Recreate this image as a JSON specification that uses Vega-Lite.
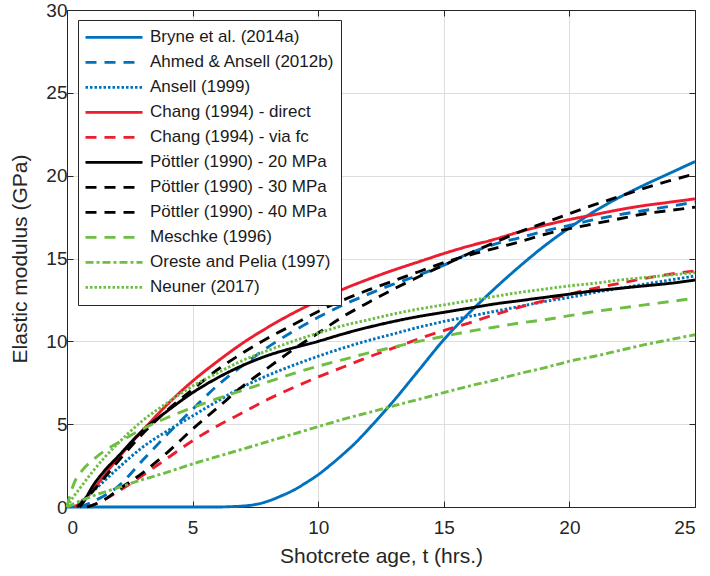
{
  "$schema": "https://vega.github.io/schema/vega-lite/v6.json",
  "width": 628,
  "height": 497,
  "autosize": {"type": "none"},
  "padding": {"left": 67, "top": 10, "right": 15, "bottom": 69},
  "background": "white",
  "config": {
    "font": "Liberation Sans",
    "view": {"stroke": "#262626", "strokeWidth": 1},
    "axis": {
      "domainColor": "#262626",
      "tickColor": "#262626",
      "labelColor": "#262626",
      "titleColor": "#262626",
      "labelFont": "Liberation Sans",
      "titleFont": "Liberation Sans",
      "labelFontSize": 19,
      "titleFontSize": 21,
      "titleFontWeight": "normal",
      "gridColor": "#dedede",
      "gridWidth": 1,
      "tickSize": -6
    }
  },
  "data": {
    "values": [
      {"s": "Bryne et al. (2014a)", "t": 0, "E": 0},
      {"s": "Bryne et al. (2014a)", "t": 3, "E": 0},
      {"s": "Bryne et al. (2014a)", "t": 6, "E": 0},
      {"s": "Bryne et al. (2014a)", "t": 6.5, "E": 0.02},
      {"s": "Bryne et al. (2014a)", "t": 7, "E": 0.06},
      {"s": "Bryne et al. (2014a)", "t": 7.5, "E": 0.15},
      {"s": "Bryne et al. (2014a)", "t": 8, "E": 0.35},
      {"s": "Bryne et al. (2014a)", "t": 8.5, "E": 0.65},
      {"s": "Bryne et al. (2014a)", "t": 9, "E": 1.0},
      {"s": "Bryne et al. (2014a)", "t": 9.5, "E": 1.45},
      {"s": "Bryne et al. (2014a)", "t": 10, "E": 1.95},
      {"s": "Bryne et al. (2014a)", "t": 10.5, "E": 2.55},
      {"s": "Bryne et al. (2014a)", "t": 11, "E": 3.2},
      {"s": "Bryne et al. (2014a)", "t": 11.5, "E": 3.9},
      {"s": "Bryne et al. (2014a)", "t": 12, "E": 4.7},
      {"s": "Bryne et al. (2014a)", "t": 13, "E": 6.4},
      {"s": "Bryne et al. (2014a)", "t": 14, "E": 8.25},
      {"s": "Bryne et al. (2014a)", "t": 15, "E": 10.1},
      {"s": "Bryne et al. (2014a)", "t": 16, "E": 11.7},
      {"s": "Bryne et al. (2014a)", "t": 17, "E": 13.15},
      {"s": "Bryne et al. (2014a)", "t": 18, "E": 14.5},
      {"s": "Bryne et al. (2014a)", "t": 19, "E": 15.75},
      {"s": "Bryne et al. (2014a)", "t": 20, "E": 16.85},
      {"s": "Bryne et al. (2014a)", "t": 21, "E": 17.85},
      {"s": "Bryne et al. (2014a)", "t": 22, "E": 18.7},
      {"s": "Bryne et al. (2014a)", "t": 23, "E": 19.45},
      {"s": "Bryne et al. (2014a)", "t": 24, "E": 20.15},
      {"s": "Bryne et al. (2014a)", "t": 25, "E": 20.85},

      {"s": "Ahmed & Ansell (2012b)", "t": 0.5, "E": 0},
      {"s": "Ahmed & Ansell (2012b)", "t": 1, "E": 0.3},
      {"s": "Ahmed & Ansell (2012b)", "t": 1.5, "E": 0.7},
      {"s": "Ahmed & Ansell (2012b)", "t": 2, "E": 1.2},
      {"s": "Ahmed & Ansell (2012b)", "t": 3, "E": 2.8},
      {"s": "Ahmed & Ansell (2012b)", "t": 4, "E": 4.4},
      {"s": "Ahmed & Ansell (2012b)", "t": 5, "E": 5.9},
      {"s": "Ahmed & Ansell (2012b)", "t": 6, "E": 7.35},
      {"s": "Ahmed & Ansell (2012b)", "t": 7, "E": 8.55},
      {"s": "Ahmed & Ansell (2012b)", "t": 8, "E": 9.65},
      {"s": "Ahmed & Ansell (2012b)", "t": 9, "E": 10.6},
      {"s": "Ahmed & Ansell (2012b)", "t": 10, "E": 11.45},
      {"s": "Ahmed & Ansell (2012b)", "t": 11, "E": 12.2},
      {"s": "Ahmed & Ansell (2012b)", "t": 12, "E": 12.85},
      {"s": "Ahmed & Ansell (2012b)", "t": 13, "E": 13.45},
      {"s": "Ahmed & Ansell (2012b)", "t": 14, "E": 14.0},
      {"s": "Ahmed & Ansell (2012b)", "t": 15, "E": 14.6},
      {"s": "Ahmed & Ansell (2012b)", "t": 16, "E": 15.3},
      {"s": "Ahmed & Ansell (2012b)", "t": 17, "E": 15.85},
      {"s": "Ahmed & Ansell (2012b)", "t": 18, "E": 16.25},
      {"s": "Ahmed & Ansell (2012b)", "t": 19, "E": 16.65},
      {"s": "Ahmed & Ansell (2012b)", "t": 20, "E": 17.0},
      {"s": "Ahmed & Ansell (2012b)", "t": 21, "E": 17.35},
      {"s": "Ahmed & Ansell (2012b)", "t": 22, "E": 17.65},
      {"s": "Ahmed & Ansell (2012b)", "t": 23, "E": 17.9},
      {"s": "Ahmed & Ansell (2012b)", "t": 24, "E": 18.15},
      {"s": "Ahmed & Ansell (2012b)", "t": 25, "E": 18.4},

      {"s": "Ansell (1999)", "t": 0.3, "E": 0},
      {"s": "Ansell (1999)", "t": 1, "E": 0.9},
      {"s": "Ansell (1999)", "t": 2, "E": 2.3},
      {"s": "Ansell (1999)", "t": 3, "E": 3.6},
      {"s": "Ansell (1999)", "t": 4, "E": 4.6},
      {"s": "Ansell (1999)", "t": 5, "E": 5.5},
      {"s": "Ansell (1999)", "t": 6, "E": 6.4},
      {"s": "Ansell (1999)", "t": 7, "E": 7.25},
      {"s": "Ansell (1999)", "t": 8, "E": 7.95},
      {"s": "Ansell (1999)", "t": 9, "E": 8.55},
      {"s": "Ansell (1999)", "t": 10, "E": 9.1},
      {"s": "Ansell (1999)", "t": 11, "E": 9.6},
      {"s": "Ansell (1999)", "t": 12, "E": 10.05},
      {"s": "Ansell (1999)", "t": 13, "E": 10.45},
      {"s": "Ansell (1999)", "t": 14, "E": 10.85},
      {"s": "Ansell (1999)", "t": 15, "E": 11.2},
      {"s": "Ansell (1999)", "t": 16, "E": 11.5},
      {"s": "Ansell (1999)", "t": 17, "E": 11.8},
      {"s": "Ansell (1999)", "t": 18, "E": 12.1},
      {"s": "Ansell (1999)", "t": 19, "E": 12.4},
      {"s": "Ansell (1999)", "t": 20, "E": 12.65},
      {"s": "Ansell (1999)", "t": 21, "E": 12.95},
      {"s": "Ansell (1999)", "t": 22, "E": 13.2},
      {"s": "Ansell (1999)", "t": 23, "E": 13.45},
      {"s": "Ansell (1999)", "t": 24, "E": 13.7},
      {"s": "Ansell (1999)", "t": 25, "E": 13.95},

      {"s": "Chang (1994) - direct", "t": 0.3, "E": 0},
      {"s": "Chang (1994) - direct", "t": 0.5, "E": 0.2},
      {"s": "Chang (1994) - direct", "t": 1, "E": 1.0},
      {"s": "Chang (1994) - direct", "t": 2, "E": 2.9},
      {"s": "Chang (1994) - direct", "t": 3, "E": 4.6},
      {"s": "Chang (1994) - direct", "t": 4, "E": 6.2},
      {"s": "Chang (1994) - direct", "t": 5, "E": 7.6},
      {"s": "Chang (1994) - direct", "t": 6, "E": 8.8},
      {"s": "Chang (1994) - direct", "t": 7, "E": 9.9},
      {"s": "Chang (1994) - direct", "t": 8, "E": 10.85},
      {"s": "Chang (1994) - direct", "t": 9, "E": 11.7},
      {"s": "Chang (1994) - direct", "t": 10, "E": 12.45},
      {"s": "Chang (1994) - direct", "t": 11, "E": 13.15},
      {"s": "Chang (1994) - direct", "t": 12, "E": 13.75},
      {"s": "Chang (1994) - direct", "t": 13, "E": 14.3},
      {"s": "Chang (1994) - direct", "t": 14, "E": 14.8},
      {"s": "Chang (1994) - direct", "t": 15, "E": 15.3},
      {"s": "Chang (1994) - direct", "t": 16, "E": 15.75},
      {"s": "Chang (1994) - direct", "t": 17, "E": 16.15},
      {"s": "Chang (1994) - direct", "t": 18, "E": 16.6},
      {"s": "Chang (1994) - direct", "t": 19, "E": 17.0},
      {"s": "Chang (1994) - direct", "t": 20, "E": 17.35},
      {"s": "Chang (1994) - direct", "t": 21, "E": 17.65},
      {"s": "Chang (1994) - direct", "t": 22, "E": 17.95},
      {"s": "Chang (1994) - direct", "t": 23, "E": 18.2},
      {"s": "Chang (1994) - direct", "t": 24, "E": 18.4},
      {"s": "Chang (1994) - direct", "t": 25, "E": 18.6},

      {"s": "Chang (1994) - via fc", "t": 0.8, "E": 0},
      {"s": "Chang (1994) - via fc", "t": 1, "E": 0.1},
      {"s": "Chang (1994) - via fc", "t": 2, "E": 0.9},
      {"s": "Chang (1994) - via fc", "t": 3, "E": 1.9},
      {"s": "Chang (1994) - via fc", "t": 4, "E": 2.95},
      {"s": "Chang (1994) - via fc", "t": 5, "E": 4.0},
      {"s": "Chang (1994) - via fc", "t": 6, "E": 4.9},
      {"s": "Chang (1994) - via fc", "t": 7, "E": 5.7},
      {"s": "Chang (1994) - via fc", "t": 8, "E": 6.5},
      {"s": "Chang (1994) - via fc", "t": 9, "E": 7.2},
      {"s": "Chang (1994) - via fc", "t": 10, "E": 7.85},
      {"s": "Chang (1994) - via fc", "t": 11, "E": 8.45},
      {"s": "Chang (1994) - via fc", "t": 12, "E": 9.05},
      {"s": "Chang (1994) - via fc", "t": 13, "E": 9.6},
      {"s": "Chang (1994) - via fc", "t": 14, "E": 10.15},
      {"s": "Chang (1994) - via fc", "t": 15, "E": 10.65},
      {"s": "Chang (1994) - via fc", "t": 16, "E": 11.1},
      {"s": "Chang (1994) - via fc", "t": 17, "E": 11.6},
      {"s": "Chang (1994) - via fc", "t": 18, "E": 12.05},
      {"s": "Chang (1994) - via fc", "t": 19, "E": 12.45},
      {"s": "Chang (1994) - via fc", "t": 20, "E": 12.85},
      {"s": "Chang (1994) - via fc", "t": 21, "E": 13.2},
      {"s": "Chang (1994) - via fc", "t": 22, "E": 13.5},
      {"s": "Chang (1994) - via fc", "t": 23, "E": 13.8},
      {"s": "Chang (1994) - via fc", "t": 24, "E": 14.05},
      {"s": "Chang (1994) - via fc", "t": 25, "E": 14.25},

      {"s": "Pöttler (1990) - 20 MPa", "t": 0.5, "E": 0},
      {"s": "Pöttler (1990) - 20 MPa", "t": 0.7, "E": 0.4},
      {"s": "Pöttler (1990) - 20 MPa", "t": 1, "E": 1.2},
      {"s": "Pöttler (1990) - 20 MPa", "t": 1.5, "E": 2.2},
      {"s": "Pöttler (1990) - 20 MPa", "t": 2, "E": 3.0},
      {"s": "Pöttler (1990) - 20 MPa", "t": 3, "E": 4.6},
      {"s": "Pöttler (1990) - 20 MPa", "t": 4, "E": 5.8},
      {"s": "Pöttler (1990) - 20 MPa", "t": 5, "E": 6.9},
      {"s": "Pöttler (1990) - 20 MPa", "t": 6, "E": 7.8},
      {"s": "Pöttler (1990) - 20 MPa", "t": 7, "E": 8.55},
      {"s": "Pöttler (1990) - 20 MPa", "t": 8, "E": 9.15},
      {"s": "Pöttler (1990) - 20 MPa", "t": 9, "E": 9.6},
      {"s": "Pöttler (1990) - 20 MPa", "t": 10, "E": 10.0},
      {"s": "Pöttler (1990) - 20 MPa", "t": 11, "E": 10.45},
      {"s": "Pöttler (1990) - 20 MPa", "t": 12, "E": 10.85},
      {"s": "Pöttler (1990) - 20 MPa", "t": 13, "E": 11.2},
      {"s": "Pöttler (1990) - 20 MPa", "t": 14, "E": 11.5},
      {"s": "Pöttler (1990) - 20 MPa", "t": 15, "E": 11.75},
      {"s": "Pöttler (1990) - 20 MPa", "t": 16, "E": 12.0},
      {"s": "Pöttler (1990) - 20 MPa", "t": 17, "E": 12.25},
      {"s": "Pöttler (1990) - 20 MPa", "t": 18, "E": 12.45},
      {"s": "Pöttler (1990) - 20 MPa", "t": 19, "E": 12.65},
      {"s": "Pöttler (1990) - 20 MPa", "t": 20, "E": 12.85},
      {"s": "Pöttler (1990) - 20 MPa", "t": 21, "E": 13.05},
      {"s": "Pöttler (1990) - 20 MPa", "t": 22, "E": 13.2},
      {"s": "Pöttler (1990) - 20 MPa", "t": 23, "E": 13.35},
      {"s": "Pöttler (1990) - 20 MPa", "t": 24, "E": 13.5},
      {"s": "Pöttler (1990) - 20 MPa", "t": 25, "E": 13.7},

      {"s": "Pöttler (1990) - 30 MPa", "t": 0.4, "E": 0},
      {"s": "Pöttler (1990) - 30 MPa", "t": 1, "E": 0.9},
      {"s": "Pöttler (1990) - 30 MPa", "t": 2, "E": 2.7},
      {"s": "Pöttler (1990) - 30 MPa", "t": 3, "E": 4.4},
      {"s": "Pöttler (1990) - 30 MPa", "t": 4, "E": 5.85},
      {"s": "Pöttler (1990) - 30 MPa", "t": 5, "E": 7.1},
      {"s": "Pöttler (1990) - 30 MPa", "t": 6, "E": 8.3},
      {"s": "Pöttler (1990) - 30 MPa", "t": 7, "E": 9.3},
      {"s": "Pöttler (1990) - 30 MPa", "t": 8, "E": 10.2},
      {"s": "Pöttler (1990) - 30 MPa", "t": 9, "E": 11.0},
      {"s": "Pöttler (1990) - 30 MPa", "t": 10, "E": 11.8},
      {"s": "Pöttler (1990) - 30 MPa", "t": 11, "E": 12.5},
      {"s": "Pöttler (1990) - 30 MPa", "t": 12, "E": 13.1},
      {"s": "Pöttler (1990) - 30 MPa", "t": 13, "E": 13.65},
      {"s": "Pöttler (1990) - 30 MPa", "t": 14, "E": 14.2},
      {"s": "Pöttler (1990) - 30 MPa", "t": 15, "E": 14.75},
      {"s": "Pöttler (1990) - 30 MPa", "t": 16, "E": 15.2},
      {"s": "Pöttler (1990) - 30 MPa", "t": 17, "E": 15.6},
      {"s": "Pöttler (1990) - 30 MPa", "t": 18, "E": 16.0},
      {"s": "Pöttler (1990) - 30 MPa", "t": 19, "E": 16.45},
      {"s": "Pöttler (1990) - 30 MPa", "t": 20, "E": 16.8},
      {"s": "Pöttler (1990) - 30 MPa", "t": 21, "E": 17.1},
      {"s": "Pöttler (1990) - 30 MPa", "t": 22, "E": 17.4},
      {"s": "Pöttler (1990) - 30 MPa", "t": 23, "E": 17.7},
      {"s": "Pöttler (1990) - 30 MPa", "t": 24, "E": 17.9},
      {"s": "Pöttler (1990) - 30 MPa", "t": 25, "E": 18.1},

      {"s": "Pöttler (1990) - 40 MPa", "t": 0.8, "E": 0},
      {"s": "Pöttler (1990) - 40 MPa", "t": 1, "E": 0.1},
      {"s": "Pöttler (1990) - 40 MPa", "t": 1.5, "E": 0.45},
      {"s": "Pöttler (1990) - 40 MPa", "t": 2, "E": 1.0},
      {"s": "Pöttler (1990) - 40 MPa", "t": 3, "E": 2.05},
      {"s": "Pöttler (1990) - 40 MPa", "t": 4, "E": 3.3},
      {"s": "Pöttler (1990) - 40 MPa", "t": 5, "E": 4.7},
      {"s": "Pöttler (1990) - 40 MPa", "t": 6, "E": 6.0},
      {"s": "Pöttler (1990) - 40 MPa", "t": 7, "E": 7.3},
      {"s": "Pöttler (1990) - 40 MPa", "t": 8, "E": 8.4},
      {"s": "Pöttler (1990) - 40 MPa", "t": 9, "E": 9.5},
      {"s": "Pöttler (1990) - 40 MPa", "t": 10, "E": 10.5},
      {"s": "Pöttler (1990) - 40 MPa", "t": 11, "E": 11.5},
      {"s": "Pöttler (1990) - 40 MPa", "t": 12, "E": 12.35},
      {"s": "Pöttler (1990) - 40 MPa", "t": 13, "E": 13.15},
      {"s": "Pöttler (1990) - 40 MPa", "t": 14, "E": 13.9},
      {"s": "Pöttler (1990) - 40 MPa", "t": 15, "E": 14.6},
      {"s": "Pöttler (1990) - 40 MPa", "t": 16, "E": 15.3},
      {"s": "Pöttler (1990) - 40 MPa", "t": 17, "E": 15.95},
      {"s": "Pöttler (1990) - 40 MPa", "t": 18, "E": 16.6},
      {"s": "Pöttler (1990) - 40 MPa", "t": 19, "E": 17.15},
      {"s": "Pöttler (1990) - 40 MPa", "t": 20, "E": 17.7},
      {"s": "Pöttler (1990) - 40 MPa", "t": 21, "E": 18.25},
      {"s": "Pöttler (1990) - 40 MPa", "t": 22, "E": 18.75},
      {"s": "Pöttler (1990) - 40 MPa", "t": 23, "E": 19.25},
      {"s": "Pöttler (1990) - 40 MPa", "t": 24, "E": 19.7},
      {"s": "Pöttler (1990) - 40 MPa", "t": 25, "E": 20.1},

      {"s": "Meschke (1996)", "t": 0, "E": 0},
      {"s": "Meschke (1996)", "t": 0.1, "E": 0.6},
      {"s": "Meschke (1996)", "t": 0.3, "E": 1.5},
      {"s": "Meschke (1996)", "t": 0.6, "E": 2.2},
      {"s": "Meschke (1996)", "t": 1, "E": 2.8},
      {"s": "Meschke (1996)", "t": 1.5, "E": 3.4},
      {"s": "Meschke (1996)", "t": 2, "E": 3.85},
      {"s": "Meschke (1996)", "t": 3, "E": 4.7},
      {"s": "Meschke (1996)", "t": 4, "E": 5.4},
      {"s": "Meschke (1996)", "t": 5, "E": 6.0},
      {"s": "Meschke (1996)", "t": 6, "E": 6.55},
      {"s": "Meschke (1996)", "t": 7, "E": 7.05},
      {"s": "Meschke (1996)", "t": 8, "E": 7.55},
      {"s": "Meschke (1996)", "t": 9, "E": 8.05},
      {"s": "Meschke (1996)", "t": 10, "E": 8.5},
      {"s": "Meschke (1996)", "t": 11, "E": 8.9},
      {"s": "Meschke (1996)", "t": 12, "E": 9.3},
      {"s": "Meschke (1996)", "t": 13, "E": 9.65},
      {"s": "Meschke (1996)", "t": 14, "E": 10.0},
      {"s": "Meschke (1996)", "t": 15, "E": 10.3},
      {"s": "Meschke (1996)", "t": 16, "E": 10.6},
      {"s": "Meschke (1996)", "t": 17, "E": 10.85},
      {"s": "Meschke (1996)", "t": 18, "E": 11.1},
      {"s": "Meschke (1996)", "t": 19, "E": 11.3},
      {"s": "Meschke (1996)", "t": 20, "E": 11.55},
      {"s": "Meschke (1996)", "t": 21, "E": 11.8},
      {"s": "Meschke (1996)", "t": 22, "E": 12.0},
      {"s": "Meschke (1996)", "t": 23, "E": 12.2},
      {"s": "Meschke (1996)", "t": 24, "E": 12.4},
      {"s": "Meschke (1996)", "t": 25, "E": 12.6},

      {"s": "Oreste and Pelia (1997)", "t": 0, "E": 0},
      {"s": "Oreste and Pelia (1997)", "t": 0.5, "E": 0.35},
      {"s": "Oreste and Pelia (1997)", "t": 1, "E": 0.65},
      {"s": "Oreste and Pelia (1997)", "t": 2, "E": 1.15},
      {"s": "Oreste and Pelia (1997)", "t": 3, "E": 1.65},
      {"s": "Oreste and Pelia (1997)", "t": 4, "E": 2.1},
      {"s": "Oreste and Pelia (1997)", "t": 5, "E": 2.6},
      {"s": "Oreste and Pelia (1997)", "t": 6, "E": 3.05},
      {"s": "Oreste and Pelia (1997)", "t": 7, "E": 3.5},
      {"s": "Oreste and Pelia (1997)", "t": 8, "E": 3.95},
      {"s": "Oreste and Pelia (1997)", "t": 9, "E": 4.4},
      {"s": "Oreste and Pelia (1997)", "t": 10, "E": 4.85},
      {"s": "Oreste and Pelia (1997)", "t": 11, "E": 5.3},
      {"s": "Oreste and Pelia (1997)", "t": 12, "E": 5.7},
      {"s": "Oreste and Pelia (1997)", "t": 13, "E": 6.1},
      {"s": "Oreste and Pelia (1997)", "t": 14, "E": 6.5},
      {"s": "Oreste and Pelia (1997)", "t": 15, "E": 6.9},
      {"s": "Oreste and Pelia (1997)", "t": 16, "E": 7.3},
      {"s": "Oreste and Pelia (1997)", "t": 17, "E": 7.65},
      {"s": "Oreste and Pelia (1997)", "t": 18, "E": 8.05},
      {"s": "Oreste and Pelia (1997)", "t": 19, "E": 8.4},
      {"s": "Oreste and Pelia (1997)", "t": 20, "E": 8.8},
      {"s": "Oreste and Pelia (1997)", "t": 21, "E": 9.1},
      {"s": "Oreste and Pelia (1997)", "t": 22, "E": 9.45},
      {"s": "Oreste and Pelia (1997)", "t": 23, "E": 9.8},
      {"s": "Oreste and Pelia (1997)", "t": 24, "E": 10.1},
      {"s": "Oreste and Pelia (1997)", "t": 25, "E": 10.4},

      {"s": "Neuner (2017)", "t": 0, "E": 0},
      {"s": "Neuner (2017)", "t": 0.25, "E": 0.6},
      {"s": "Neuner (2017)", "t": 0.5, "E": 1.1},
      {"s": "Neuner (2017)", "t": 1, "E": 2.1},
      {"s": "Neuner (2017)", "t": 1.5, "E": 3.0},
      {"s": "Neuner (2017)", "t": 2, "E": 3.8},
      {"s": "Neuner (2017)", "t": 3, "E": 5.2},
      {"s": "Neuner (2017)", "t": 4, "E": 6.3},
      {"s": "Neuner (2017)", "t": 5, "E": 7.3},
      {"s": "Neuner (2017)", "t": 6, "E": 8.1},
      {"s": "Neuner (2017)", "t": 7, "E": 8.85},
      {"s": "Neuner (2017)", "t": 8, "E": 9.45},
      {"s": "Neuner (2017)", "t": 9, "E": 10.0},
      {"s": "Neuner (2017)", "t": 10, "E": 10.5},
      {"s": "Neuner (2017)", "t": 11, "E": 10.95},
      {"s": "Neuner (2017)", "t": 12, "E": 11.3},
      {"s": "Neuner (2017)", "t": 13, "E": 11.65},
      {"s": "Neuner (2017)", "t": 14, "E": 11.95},
      {"s": "Neuner (2017)", "t": 15, "E": 12.2},
      {"s": "Neuner (2017)", "t": 16, "E": 12.45},
      {"s": "Neuner (2017)", "t": 17, "E": 12.7},
      {"s": "Neuner (2017)", "t": 18, "E": 12.95},
      {"s": "Neuner (2017)", "t": 19, "E": 13.15},
      {"s": "Neuner (2017)", "t": 20, "E": 13.35},
      {"s": "Neuner (2017)", "t": 21, "E": 13.5},
      {"s": "Neuner (2017)", "t": 22, "E": 13.7},
      {"s": "Neuner (2017)", "t": 23, "E": 13.85},
      {"s": "Neuner (2017)", "t": 24, "E": 14.0},
      {"s": "Neuner (2017)", "t": 25, "E": 14.15}
    ]
  },
  "layer": [
    {
      "mark": {"type": "line", "strokeWidth": 2.9, "interpolate": "monotone"},
      "encoding": {
        "x": {
          "field": "t", "type": "quantitative",
          "scale": {"domain": [0, 25], "nice": false},
          "axis": {"values": [0, 5, 10, 15, 20, 25], "title": "Shotcrete age, t (hrs.)", "grid": true, "labelPadding": 17, "titlePadding": 8}
        },
        "y": {
          "field": "E", "type": "quantitative",
          "scale": {"domain": [0, 30], "nice": false},
          "axis": {"values": [0, 5, 10, 15, 20, 25, 30], "title": "Elastic modulus (GPa)", "grid": true, "labelPadding": 6, "titlePadding": 15}
        },
        "color": {
          "field": "s", "type": "nominal",
          "scale": {
            "domain": ["Bryne et al. (2014a)", "Ahmed & Ansell (2012b)", "Ansell (1999)", "Chang (1994) - direct", "Chang (1994) - via fc", "Pöttler (1990) - 20 MPa", "Pöttler (1990) - 30 MPa", "Pöttler (1990) - 40 MPa", "Meschke (1996)", "Oreste and Pelia (1997)", "Neuner (2017)"],
            "range": ["#0072BD", "#0072BD", "#0072BD", "#ED1C2E", "#ED1C2E", "#000000", "#000000", "#000000", "#6EBE44", "#6EBE44", "#6EBE44"]
          },
          "legend": {
            "title": null, "orient": "none", "legendX": 11, "legendY": 10,
            "strokeColor": "#262626", "fillColor": "white", "padding": 6,
            "labelFontSize": 17, "labelColor": "#1a1a1a", "labelLimit": 400, "labelOffset": 6,
            "symbolType": "stroke", "symbolSize": 3249, "symbolStrokeWidth": 2.9,
            "clipHeight": 22.8, "rowPadding": 2
          }
        },
        "strokeDash": {
          "field": "s", "type": "nominal",
          "scale": {
            "domain": ["Bryne et al. (2014a)", "Ahmed & Ansell (2012b)", "Ansell (1999)", "Chang (1994) - direct", "Chang (1994) - via fc", "Pöttler (1990) - 20 MPa", "Pöttler (1990) - 30 MPa", "Pöttler (1990) - 40 MPa", "Meschke (1996)", "Oreste and Pelia (1997)", "Neuner (2017)"],
            "range": [[1, 0], [11, 8], [2.5, 2], [1, 0], [11, 8], [1, 0], [11, 8], [11, 8], [11, 8], [8, 3, 3, 3], [2.5, 2]]
          },
          "legend": {
            "title": null, "orient": "none", "legendX": 11, "legendY": 10,
            "strokeColor": "#262626", "fillColor": "white", "padding": 6,
            "labelFontSize": 17, "labelColor": "#1a1a1a", "labelLimit": 400, "labelOffset": 6,
            "symbolType": "stroke", "symbolSize": 3249, "symbolStrokeWidth": 2.9,
            "clipHeight": 22.8, "rowPadding": 2
          }
        }
      }
    },
    {
      "mark": {"type": "point", "opacity": 0},
      "encoding": {
        "x": {
          "field": "t", "type": "quantitative",
          "scale": {"domain": [0, 25], "nice": false},
          "axis": {"orient": "top", "values": [0, 5, 10, 15, 20, 25], "labels": false, "title": null, "grid": false}
        },
        "y": {
          "field": "E", "type": "quantitative",
          "scale": {"domain": [0, 30], "nice": false},
          "axis": {"orient": "right", "values": [0, 5, 10, 15, 20, 25, 30], "labels": false, "title": null, "grid": false}
        }
      }
    }
  ],
  "resolve": {"axis": {"x": "independent", "y": "independent"}}
}
